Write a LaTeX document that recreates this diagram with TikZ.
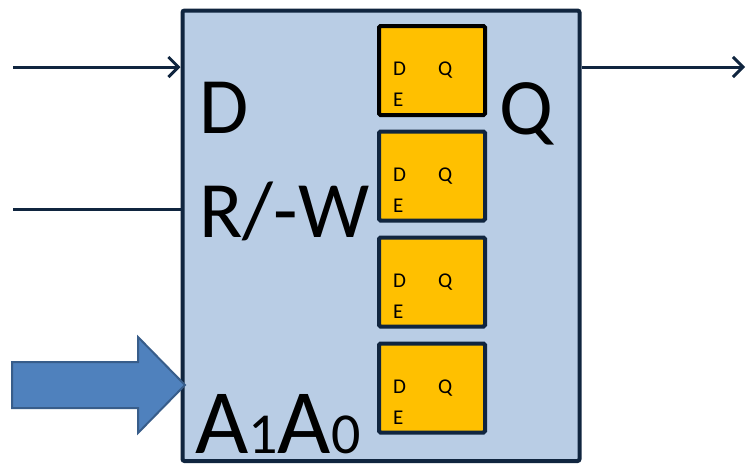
\documentclass[tikz,border=0pt]{standalone}
\usepackage{fontspec}
\setmainfont{Carlito}
\usetikzlibrary{arrows.meta}
\definecolor{navy}{HTML}{10253F}
\definecolor{boxfill}{HTML}{B9CDE5}
\definecolor{ffill}{HTML}{FFC000}
\definecolor{barrow}{HTML}{4F81BD}
\definecolor{barrowb}{HTML}{385D8A}
\tikzset{
  mainbox/.style={draw=navy, fill=boxfill, line width=4pt, rounded corners=2pt, minimum width=397pt, minimum height=450.5pt, inner sep=0pt},
  ffbox/.style={draw=navy, fill=ffill, line width=4pt, rounded corners=1.5pt, minimum width=106pt, minimum height=89pt, inner sep=0pt},
  biglbl/.style={anchor=base west, inner sep=0pt, font=\fontsize{80}{80}\selectfont},
  smalllbl/.style={anchor=base west, inner sep=0pt, font=\fontsize{21}{21}\selectfont},
  wire/.style={draw=navy, line width=3pt},
  barb/.style={-{Straight Barb[length=10pt,width=20pt,line width=3pt]}}
}
\begin{document}
\begin{tikzpicture}[x=1pt,y=-1pt]
\useasboundingbox (0,0) rectangle (746,464);
\node[mainbox] (main) at (381,235.75) {};
% flip-flops
\node[ffbox, draw=black] (ff1) at (432,70.5) {};
\node[ffbox] (ff2) at (432,176) {};
\node[ffbox] (ff3) at (432,282) {};
\node[ffbox] (ff4) at (432,388) {};
\foreach \f in {ff1,ff2,ff3,ff4}{
  \node[smalllbl] (\f d) at ([xshift=-39pt,yshift=-5pt]\f.center) {D};
  \node[smalllbl] (\f q) at ([xshift=6pt,yshift=-5pt]\f.center) {Q};
  \node[smalllbl] (\f e) at ([xshift=-39pt,yshift=-36pt]\f.center) {E};
}
% big labels
\node[biglbl] (ld) at (199,133) {D};
\node[biglbl] (lrw) at (199,237) {R/-W};
\node[biglbl] (lq) at (499,134) {Q};
\node[anchor=base west, inner sep=0pt] (la) at (195,453) {\fontsize{92}{92}\selectfont A\fontsize{58}{58}\selectfont 1\fontsize{92}{92}\selectfont A\fontsize{58}{58}\selectfont 0};
% wires
\coordinate (din) at (13,67);
\coordinate (rwin) at (13,209);
\coordinate (qout) at (745,67);
\draw[wire, barb] (din) -- (din -| main.west);
\draw[wire] (rwin) -- (rwin -| main.west);
\draw[wire, barb] (qout -| main.east) -- (qout);
% block arrow
\coordinate (atip) at (185,385);
\draw[draw=barrowb, fill=barrow, line width=2pt, line join=miter]
  (12,362) -- (138,362) -- (138,337) -- (atip) -- (138,433) -- (138,408) -- (12,408) -- cycle;
\end{tikzpicture}
\end{document}
